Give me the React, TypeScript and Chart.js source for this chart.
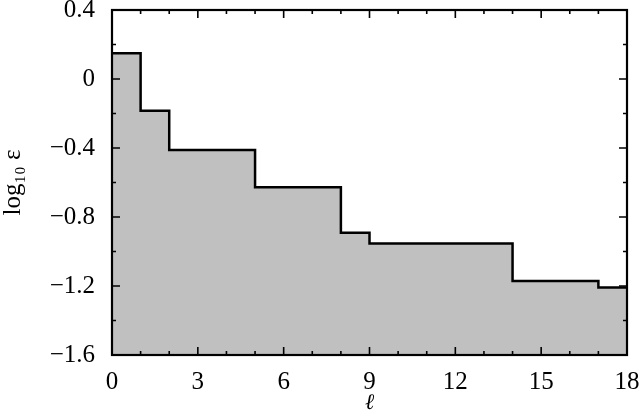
import React, { useEffect, useRef } from "react";
import { Chart, registerables } from "chart.js";

Chart.register(...registerables);

// step start positions (ℓ) and the level of log10 ε held from that ℓ onward
const ellValues = [0, 1, 2, 5, 8, 9, 14, 17, 18];
const logEpsValues = [0.15, -0.184, -0.411, -0.628, -0.892, -0.953, -1.171, -1.208, -1.208];

const xMajorStep = 3;
const yMajorStep = 0.4;
const xTitle = "ℓ";
const yTitle = "log₁₀ ε";

const FONT = "'Liberation Serif', 'DejaVu Serif', serif";

const fmtY = (v: number) => {
  const r = Math.round(v * 10) / 10;
  if (r === 0) return "0";
  return (r < 0 ? "−" : "") + Math.abs(r).toFixed(1);
};

const isMajor = (v: number, step: number) => {
  const q = v / step;
  return Math.abs(q - Math.round(q)) < 1e-6;
};

const frameTicks = {
  id: "frameTicks",
  afterDatasetsDraw(chart: any) {
    const { ctx, chartArea } = chart;
    const { left, right, top, bottom } = chartArea;
    const xs = chart.scales.x;
    const ys = chart.scales.y;
    ctx.save();
    ctx.strokeStyle = "#000";
    ctx.lineWidth = 1.6;
    ctx.beginPath();
    xs.ticks.forEach((t: any) => {
      const px = xs.getPixelForValue(t.value);
      if (px <= left + 1 || px >= right - 1) return;
      const len = isMajor(t.value, xMajorStep) ? 8 : 4;
      ctx.moveTo(px, bottom);
      ctx.lineTo(px, bottom - len);
      ctx.moveTo(px, top);
      ctx.lineTo(px, top + len);
    });
    ys.ticks.forEach((t: any) => {
      const py = ys.getPixelForValue(t.value);
      if (py <= top + 1 || py >= bottom - 1) return;
      const len = isMajor(t.value, yMajorStep) ? 8 : 4;
      ctx.moveTo(left, py);
      ctx.lineTo(left + len, py);
      ctx.moveTo(right, py);
      ctx.lineTo(right - len, py);
    });
    ctx.stroke();
    ctx.lineWidth = 2.2;
    ctx.strokeRect(left, top, right - left, bottom - top);
    ctx.restore();
  },
};

const noPad = (s: any) => {
  s.paddingTop = 0;
  s.paddingBottom = 0;
  s.paddingLeft = 0;
  s.paddingRight = 0;
};

export default function App() {
  const ref = useRef<HTMLCanvasElement>(null);
  useEffect(() => {
    document.body.style.margin = "0";
    const chart = new Chart(ref.current as HTMLCanvasElement, {
      type: "line",
      data: {
        datasets: [
          {
            data: ellValues.map((x, i) => ({ x, y: logEpsValues[i] })),
            stepped: true,
            borderColor: "#000",
            borderWidth: 2.5,
            backgroundColor: "#c0c0c0",
            fill: "start",
            pointRadius: 0,
          },
        ],
      },
      options: {
        animation: false,
        responsive: false,
        devicePixelRatio: 1,
        layout: { padding: { top: 10, right: 13, left: 0, bottom: 0 } },
        plugins: { legend: { display: false }, tooltip: { enabled: false } },
        scales: {
          x: {
            type: "linear",
            min: 0,
            max: 18,
            grid: { display: false, drawTicks: false },
            border: { display: false },
            afterFit: (s: any) => {
              s.height = 59;
              noPad(s);
            },
            ticks: {
              stepSize: 1,
              autoSkip: false,
              maxRotation: 0,
              padding: 12,
              color: "#000",
              font: { family: FONT, size: 25 },
              callback: (v: any) => (isMajor(Number(v), xMajorStep) ? String(v) : ""),
            },
            title: {
              display: true,
              text: xTitle,
              color: "#000",
              font: { family: FONT, size: 22, style: "italic", lineHeight: 1 },
              padding: { top: 0, bottom: 0 },
            },
          },
          y: {
            type: "linear",
            min: -1.6,
            max: 0.4,
            grid: { display: false, drawTicks: false },
            border: { display: false },
            afterFit: (s: any) => {
              s.width = 112;
              noPad(s);
            },
            ticks: {
              stepSize: 0.2,
              autoSkip: false,
              padding: 17,
              color: "#000",
              font: { family: FONT, size: 25 },
              callback: (v: any) => (isMajor(Number(v), yMajorStep) ? fmtY(Number(v)) : ""),
            },
            title: {
              display: true,
              text: yTitle,
              color: "#000",
              font: { family: FONT, size: 25, lineHeight: 1.1 },
              padding: { top: 0, bottom: 0 },
            },
          },
        },
      },
      plugins: [frameTicks],
    });
    return () => chart.destroy();
  }, []);
  return (
    <div style={{ width: 640, height: 414, background: "#fff" }}>
      <canvas ref={ref} width={640} height={414} style={{ display: "block" }} />
    </div>
  );
}
